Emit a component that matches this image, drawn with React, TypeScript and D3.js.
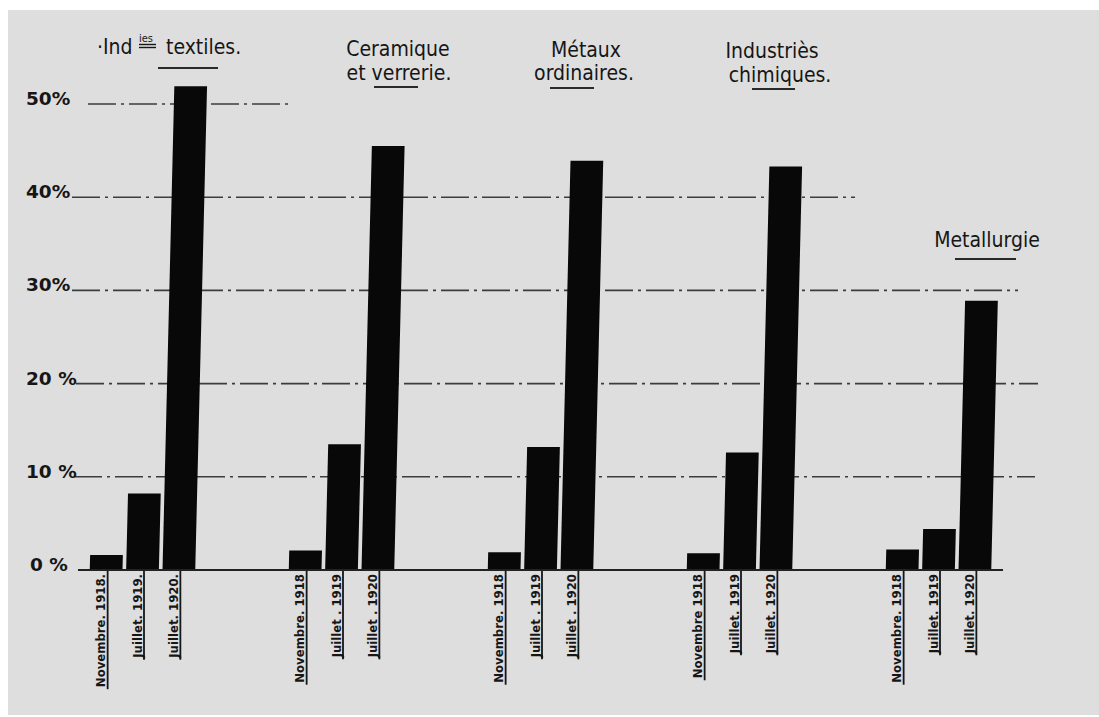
import React, { useEffect, useRef } from "react";
import * as d3 from "d3";

// groups and periods
const industries = ["textiles", "ceramique", "metaux", "chimiques", "metallurgie"];
const periods = ["nov1918", "jul1919", "jul1920"];

// % values
const nov1918 = [1.6, 2.1, 1.9, 1.8, 2.2];
const jul1919 = [8.2, 13.5, 13.2, 12.6, 4.4];
const jul1920 = [51.9, 45.5, 43.9, 43.3, 28.9];

const yTicks = [0, 10, 20, 30, 40, 50];
const yTickLabels = ["0 %", "10 %", "20 %", "30%", "40%", "50%"];

const titleLines = [
  ["textiles."],
  ["Ceramique", "et verrerie."],
  ["Métaux", "ordinaires."],
  ["Industriès", "chimiques."],
  ["Metallurgie"],
];

const barLabels = [
  ["Novembre. 1918.", "Juillet. 1919.", "Juillet. 1920."],
  ["Novembre. 1918", "Juillet . 1919", "Juillet . 1920"],
  ["Novembre. 1918", "Juillet . 1919", "Juillet . 1920"],
  ["Novembre 1918", "Juillet. 1919", "Juillet. 1920"],
  ["Novembre. 1918", "Juillet. 1919", "Juillet. 1920"],
];

const W = 1099;
const H = 717;
const INK = "#161616";
const TITLE_FONT = "'DejaVu Sans Condensed', 'Liberation Sans Narrow', 'DejaVu Sans', sans-serif";

export default function App() {
  const svgRef = useRef<SVGSVGElement>(null);

  useEffect(() => {
    const svg = d3.select(svgRef.current);
    svg.selectAll("*").remove();

    const x0 = d3
      .scaleBand()
      .domain(industries)
      .range([43, 1038])
      .paddingInner(0.47)
      .paddingOuter(0.235);
    const x1 = d3.scaleBand().domain(periods).range([0, x0.bandwidth()]).paddingInner(0.1);
    const y = d3.scaleLinear().domain([0, 50]).range([570, 104]);
    const base = y(0);

    // paper
    svg.append("rect").attr("width", W).attr("height", H).attr("fill", "#ffffff");
    svg
      .append("rect")
      .attr("x", 8)
      .attr("y", 10)
      .attr("width", W - 8)
      .attr("height", H - 12)
      .attr("fill", "#dedede");

    // dash-dot gridlines, each drawn only as far as on the plate
    const gridExtent: Record<number, [number, number]> = {
      10: [74, 1035],
      20: [76, 1038],
      30: [72, 1018],
      40: [72, 855],
      50: [88, 288],
    };
    svg
      .append("g")
      .selectAll("line")
      .data(yTicks.filter((t) => t > 0))
      .join("line")
      .attr("x1", (d) => gridExtent[d][0])
      .attr("x2", (d) => gridExtent[d][1])
      .attr("y1", (d) => y(d))
      .attr("y2", (d) => y(d))
      .attr("stroke", "#3c3c3c")
      .attr("stroke-width", 1.6)
      .attr("stroke-dasharray", "28 5 3 5");

    // y labels
    svg
      .append("g")
      .selectAll("text")
      .data(yTicks)
      .join("text")
      .attr("x", (d) => (d === 0 ? 30 : 26))
      .attr("y", (d) => y(d) + 1)
      .attr("font-family", "'DejaVu Sans', sans-serif")
      .attr("font-weight", "bold")
      .attr("font-size", 18.5)
      .attr("fill", INK)
      .text((_, i) => yTickLabels[i]);

    // bars, slightly skewed like the scan
    const rows = industries.flatMap((g, gi) =>
      periods.map((p, pi) => ({
        g,
        gi,
        p,
        pi,
        v: [nov1918, jul1919, jul1920][pi][gi],
      }))
    );
    svg
      .append("g")
      .attr("transform", `translate(0,${base}) skewX(-1.4) translate(0,${-base})`)
      .selectAll("rect")
      .data(rows)
      .join("rect")
      .attr("x", (d) => (x0(d.g) as number) + (x1(d.p) as number))
      .attr("y", (d) => y(d.v))
      .attr("width", x1.bandwidth())
      .attr("height", (d) => base - y(d.v))
      .attr("fill", "#080808");

    // baseline
    svg
      .append("line")
      .attr("x1", 78)
      .attr("x2", 1003)
      .attr("y1", base)
      .attr("y2", base)
      .attr("stroke", "#222")
      .attr("stroke-width", 2);

    // rotated, underlined period labels
    const lab = svg
      .append("g")
      .selectAll("g")
      .data(rows)
      .join("g")
      .attr("transform", (d) => {
        const cx = (x0(d.g) as number) + (x1(d.p) as number) + x1.bandwidth() / 2;
        return `translate(${cx},${base})`;
      });
    lab
      .append("text")
      .attr("transform", "translate(-1,4) rotate(-90)")
      .attr("text-anchor", "end")
      .attr("font-family", TITLE_FONT)
      .attr("font-weight", "bold")
      .attr("font-size", 13)
      .attr("fill", INK)
      .text((d) => barLabels[d.gi][d.pi]);
    lab.each(function () {
      const g = d3.select(this);
      const len = (g.select("text").node() as SVGTextElement).getComputedTextLength();
      g.append("line")
        .attr("x1", 1.5)
        .attr("x2", 1.5)
        .attr("y1", 1)
        .attr("y2", len + 6)
        .attr("stroke", INK)
        .attr("stroke-width", 1.8);
    });

    // titles
    const titles = svg
      .append("g")
      .attr("font-family", TITLE_FONT)
      .attr("font-size", 21)
      .attr("fill", INK);

    titles.append("text").attr("x", 97).attr("y", 54).text("·Ind");
    titles.append("text").attr("x", 139).attr("y", 42).attr("font-size", 11).text("ies");
    [44.5, 47.5].forEach((yy) =>
      titles
        .append("line")
        .attr("x1", 139)
        .attr("x2", 156)
        .attr("y1", yy)
        .attr("y2", yy)
        .attr("stroke", INK)
        .attr("stroke-width", 1.4)
    );
    titles.append("text").attr("x", 166).attr("y", 54).text(titleLines[0][0]);

    const titlePos = [
      null,
      [[398, 56], [399, 80]],
      [[586, 57], [584, 80]],
      [[772, 58], [780, 82]],
      [[987, 247]],
    ];
    titleLines.forEach((lines, gi) => {
      const pos = titlePos[gi];
      if (!pos) return;
      lines.forEach((t, li) =>
        titles
          .append("text")
          .attr("x", pos[li][0])
          .attr("y", pos[li][1])
          .attr("text-anchor", "middle")
          .text(t)
      );
    });

    const underlines = [
      [158, 218, 68],
      [374, 418, 87],
      [550, 594, 88],
      [752, 795, 89],
      [955, 1016, 259],
    ];
    titles
      .selectAll("line.ul")
      .data(underlines)
      .join("line")
      .attr("class", "ul")
      .attr("x1", (d) => d[0])
      .attr("x2", (d) => d[1])
      .attr("y1", (d) => d[2])
      .attr("y2", (d) => d[2])
      .attr("stroke", "#2a2a2a")
      .attr("stroke-width", 2);
  }, []);

  return (
    <div style={{ position: "absolute", left: 0, top: 0 }}>
      <svg ref={svgRef} width={W} height={H} style={{ display: "block" }} />
    </div>
  );
}
